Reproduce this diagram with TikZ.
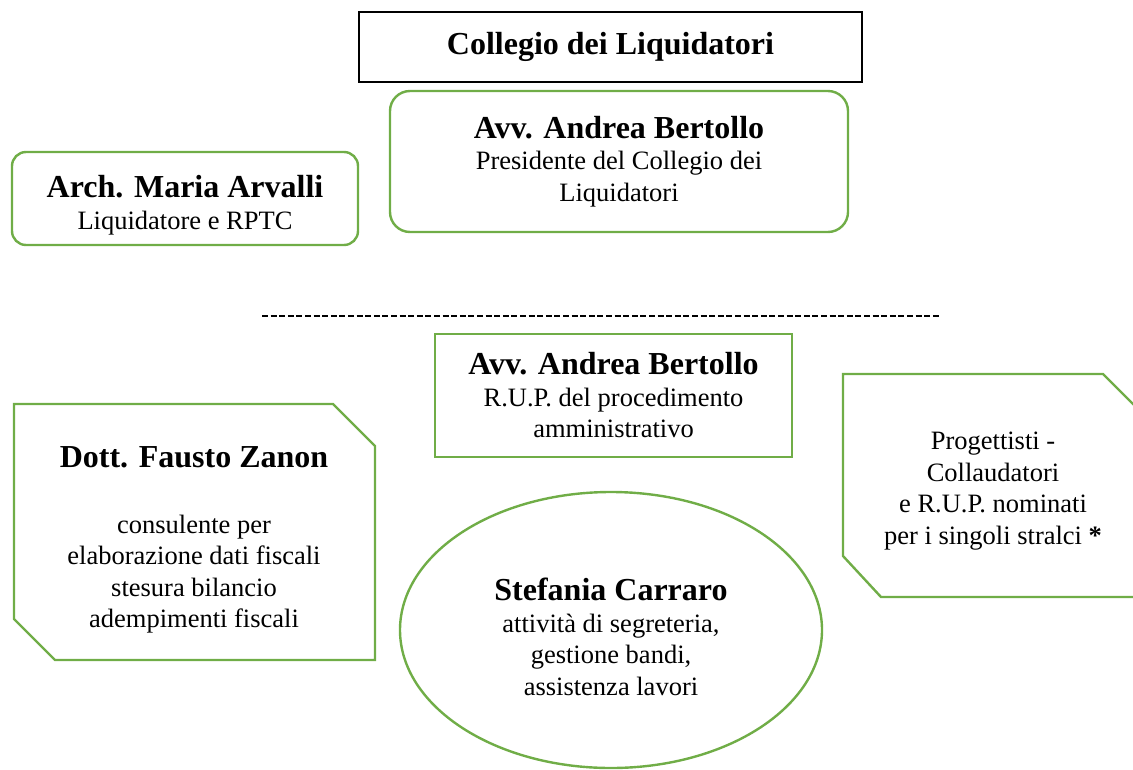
\documentclass[tikz,border=0pt]{standalone}
\usepackage{fontspec}
\setmainfont{Liberation Serif}
\usepackage{xcolor}
\usetikzlibrary{shapes.geometric}
\definecolor{lgreen}{HTML}{70AD47}
\newcommand\txtfont{\fontsize{26.5}{31.5}\selectfont}
\newcommand\nmfont{\bfseries\fontsize{32}{31.5}\selectfont}
\newcommand\nm[1]{{\nmfont #1}}

\begin{document}
\begin{tikzpicture}[x=1pt, y=-1pt,
  box/.style={draw=lgreen, line width=2.4pt, align=center, font=\txtfont, inner sep=0pt},
  txt/.style={align=center, font=\txtfont, inner sep=0pt}]
\useasboundingbox (0,0) rectangle (1133,769);
% top
\node[draw, line width=1.8pt, minimum width=503pt, minimum height=70pt, font=\nmfont] (collegio) at (610.5,47) {Collegio dei Liquidatori};
\node[box, rounded corners=20pt, minimum width=458pt, minimum height=141pt] (presidente) at (619,161.5) {\nm{Avv. Andrea Bertollo}\\ Presidente del Collegio dei\\ Liquidatori};
\node[box, rounded corners=14pt, minimum width=346pt, minimum height=93pt] (arvalli) at (185,198.5) {};
\node[txt] (arvallitxt) at (185,205) {\nm{Arch. Maria Arvalli}\\ Liquidatore e RPTC};
% separator
\coordinate (sepL) at (262,316);
\coordinate (sepR) at (940,316);
\draw[line width=2pt, dash pattern=on 6pt off 2.6pt] (sepL) -- (sepR);
% bottom
\node[box, minimum width=357pt, minimum height=123pt] (rup) at (613.5,395.5) {\nm{Avv. Andrea Bertollo}\\ R.U.P. del procedimento\\ amministrativo};
\draw[draw=lgreen, line width=2.4pt] (14,404) -- (333,404) -- (375,446) -- (375,660) -- (55,660) -- (14,619) -- cycle;
\node[txt] (zanon) at (194,540) {\nm{Dott. Fausto Zanon}\\[34pt] consulente per\\ elaborazione dati fiscali\\ stesura bilancio\\ adempimenti fiscali};
\draw[draw=lgreen, line width=2.4pt] (843,374) -- (1103,374) -- (1143,414) -- (1143,597) -- (881,597) -- (843,556) -- cycle;
\node[txt] (progettisti) at (993,491) {Progettisti -\\ Collaudatori\\ e R.U.P. nominati\\ per i singoli stralci \textbf{*}};
\node[box, ellipse, minimum width=422pt, minimum height=276pt] (carraro) at (611,630) {};
\node[txt] (segreteria) at (611,637) {\nm{Stefania Carraro}\\ attività di segreteria,\\ gestione bandi,\\ assistenza lavori};
\end{tikzpicture}
\end{document}
